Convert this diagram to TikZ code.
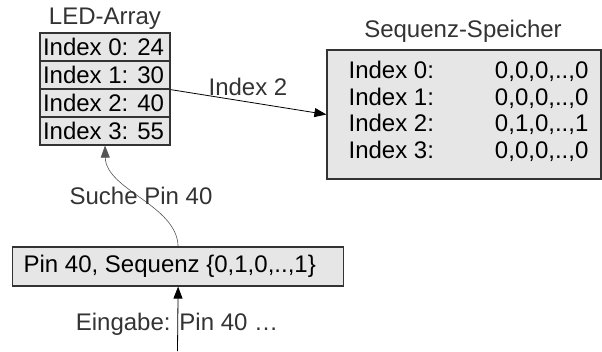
\documentclass[tikz,border=0pt]{standalone}
\usepackage{fontspec}
\setmainfont{Liberation Sans}
\usetikzlibrary{arrows.meta}
\definecolor{boxfill}{HTML}{E6E6E6}
\definecolor{boxline}{HTML}{333333}
\definecolor{lbl}{HTML}{333333}
\definecolor{conn}{HTML}{555555}
\newcommand{\celltext}[1]{\makebox[124pt][l]{#1}}
\begin{document}
\begin{tikzpicture}[x=1pt,y=-1pt,
  font=\fontsize{24}{26.5}\selectfont,
  cell/.style={draw=boxline, fill=boxfill, line width=1.2pt, minimum width=130pt,
    minimum height=28pt, inner xsep=3pt, inner ysep=0pt},
  box/.style={draw=boxline, fill=boxfill, line width=1.2pt, inner sep=0pt},
  title/.style={text=lbl, inner sep=0pt},
  conlabel/.style={text=lbl, inner sep=0pt},
  arr/.style={-{Triangle[length=12pt,width=9pt]}, line width=0.8pt},
]
\useasboundingbox (0,0) rectangle (602,351);

% LED array
\node[title] (ledtitle) at (105,19) {LED-Array};
\node[cell] (led0) at (105,47) {\celltext{Index 0: 24}};
\node[cell] (led1) at (105,75) {\celltext{Index 1: 30}};
\node[cell] (led2) at (105,103) {\celltext{Index 2: 40}};
\node[cell] (led3) at (105,131) {\celltext{Index 3: 55}};

% Sequenz-Speicher
\node[title] (sptitle) at (463,31) {Sequenz-Speicher};
\node[box, minimum width=274pt, minimum height=129pt] (speicher) at (464,114.5) {};
\node[inner sep=0pt] (sptext) at (468.5,113) {\begin{tabular}{@{}l@{\hspace{61pt}}r@{}}
Index 0: & 0,0,0,..,0\\
Index 1: & 0,0,0,..,0\\
Index 2: & 0,1,0,..,1\\
Index 3: & 0,0,0,..,0
\end{tabular}};

% Pin box
\node[box, minimum width=331pt, minimum height=39pt, anchor=west, inner xsep=11pt]
  (pin) at (12,266.5) {\makebox[309pt][l]{Pin 40, Sequenz \{0,1,0,..,1\}}};

% connectors
\draw[arr, draw=black] (led1.south east) -- (speicher.west);
\node[conlabel] (lbl2) at (248,87) {Index 2};

\draw[arr, draw=conn, line width=0.6pt] (pin.north) .. controls (177,205) and (106,190) .. (led3.south);
\node[conlabel] (lblsuche) at (141,196) {Suche Pin 40};

\coordinate (inp) at (177.5,351);
\draw[arr, draw=black] (inp) -- (pin.south);
\node[conlabel] (lbleing) at (177,324) {Eingabe: Pin 40 …};
\end{tikzpicture}
\end{document}
